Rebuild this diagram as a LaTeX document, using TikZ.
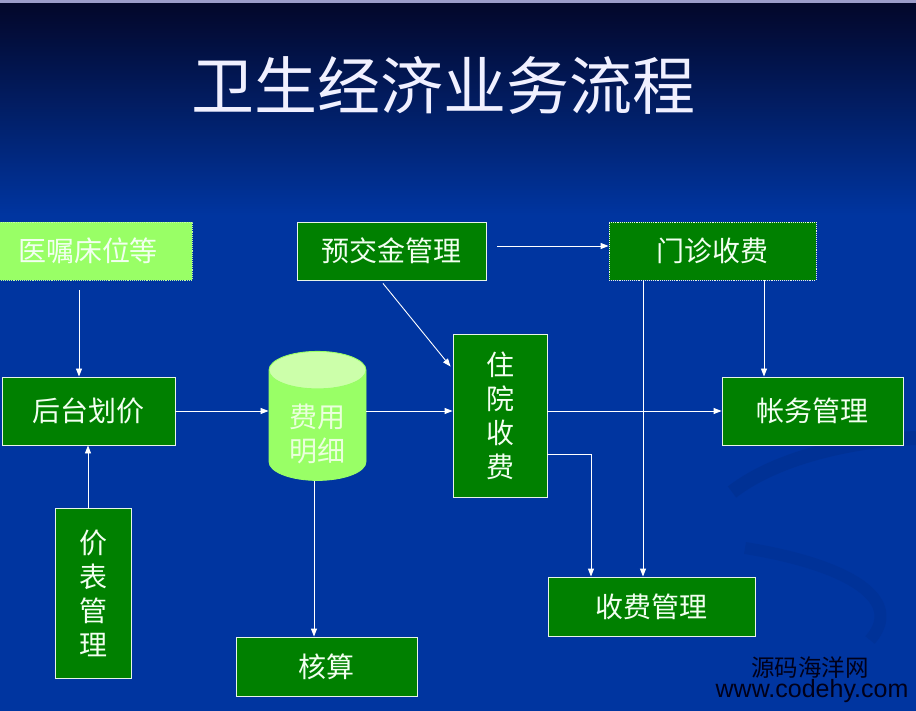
\documentclass[tikz,border=0pt]{standalone}
\usepackage{fontspec}
\setmainfont{Noto Sans CJK SC}
\newfontfamily\urlfont{Liberation Sans}
\usetikzlibrary{shapes.geometric,arrows.meta}
\definecolor{bgblue}{HTML}{0035A0}
\definecolor{topnavy}{HTML}{03072A}
\definecolor{boxgreen}{HTML}{008000}
\definecolor{lightgreen}{HTML}{99FF66}
\definecolor{palegreen}{HTML}{CCFFAA}
\definecolor{edgewhite}{HTML}{E8F4E8}
\definecolor{inkwhite}{HTML}{F2FFF0}

\begin{document}
\begin{tikzpicture}[x=1pt, y=-1pt, ->, >={Triangle[length=8pt,width=6pt]},
      line width=0.9pt, draw=white,
      every node/.append style={font=\fontsize{28}{34}\selectfont, text=inkwhite, inner sep=0pt, align=center},
      box/.style={draw=edgewhite, fill=boxgreen},
      lightbox/.style={fill=lightgreen, draw=lightgreen!60!white, densely dotted}]
    % background
    \clip (0,0) rectangle (916,711);
    \fill[bgblue] (0,0) rectangle (916,711);
    \shade[top color=topnavy, bottom color=bgblue] (0,3) rectangle (916,215);
    \fill[blue!30!gray!60!white] (0,0) rectangle (916,3);
    \draw[-, line width=14pt, bgblue!75!black, opacity=0.25] (732,492) .. controls (780,455) and (860,440) .. (916,438);
    \draw[-, line width=12pt, bgblue!75!black, opacity=0.2] (745,548) .. controls (850,565) and (905,600) .. (870,640);
    % title
    \node (title) at (443,85) [font=\fontsize{63}{63}\selectfont, text=blue!6!white] {卫生经济业务流程};
    % boxes
    \node (yizhu) at (88,251) [lightbox, minimum width=208, minimum height=58] {医嘱床位等};
    \node (yujiao) at (391.5,251) [box, minimum width=189, minimum height=58] {预交金管理};
    \node (menzhen) at (712.5,251) [box, densely dotted, minimum width=207, minimum height=58] {门诊收费};
    \node (houtai) at (88.5,411) [box, minimum width=173, minimum height=68] {后台划价};
    \node (detail) at (317.5,425.5) [cylinder, shape border rotate=90, aspect=0.67,
        minimum width=97, minimum height=129, cylinder uses custom fill,
        cylinder body fill=lightgreen, cylinder end fill=palegreen, draw=lightgreen]
        {\phantom{费用}\\\phantom{明细}};
    \node (detailtext) at ([yshift=-8]detail.center) [text=palegreen!40!white] {费用\\明细};
    \node (zhuyuan) at (500,415.5) [box, minimum width=94, minimum height=163] {住\\院\\收\\费};
    \node (zhangwu) at (812.5,411) [box, minimum width=181, minimum height=68] {帐务管理};
    \node (jiabiao) at (93,593) [box, minimum width=76, minimum height=170] {价\\表\\管\\理};
    \node (hesuan) at (326.5,666.5) [box, minimum width=181, minimum height=59] {核算};
    \node (shoufei) at (651.5,606.5) [box, minimum width=207, minimum height=59] {收费管理};
    % watermark
    \node (wmcn) at (810,668) [font=\fontsize{23.5}{24}\selectfont, text=black!90!blue] {源码海洋网};
    \node (wmurl) at (812,691) [font=\urlfont\fontsize{25}{25}\selectfont, text=black!90!blue] {www.codehy.com};
    % flow
    \draw[white] ([xshift=-9,yshift=-10]yizhu.south) -- ([xshift=-9.5]houtai.north);
    \draw[white] ([xshift=-5]jiabiao.north) -- ([xshift=-0.5]houtai.south);
    \draw[white] (houtai.east) -- (houtai.east -| detail.west);
    \draw[white] (houtai.east -| detail.east) -- (houtai.east -| zhuyuan.west);
    \draw[white] (houtai.east -| zhuyuan.east) -- (zhangwu.west);
    \draw[white] ([xshift=-8.5,yshift=-3]yujiao.south) -- ([xshift=-2,yshift=-33]zhuyuan.north west);
    \draw[white] ([xshift=11,yshift=5]yujiao.east) -- ([yshift=5]menzhen.west);
    \draw[white] ([xshift=51.5]menzhen.south) -- ([xshift=51.5]menzhen.south |- zhangwu.north);
    \draw[white] ([xshift=-69.5]menzhen.south) -- ([xshift=-69.5]menzhen.south |- shoufei.north);
    \draw[white] ([yshift=-38.5]zhuyuan.east) -| ([xshift=-60.5]shoufei.north);
    \draw[white] ([xshift=-3.5]detail.south) -- ([xshift=-3.5]detail.south |- hesuan.north);
  \end{tikzpicture}
\end{document}
